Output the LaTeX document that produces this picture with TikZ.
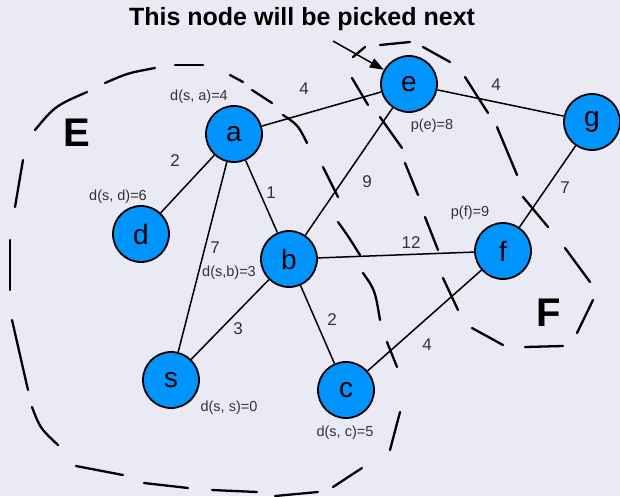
\documentclass[tikz,border=0pt]{standalone}
\usepackage{fontspec}
\setmainfont{Liberation Sans}
\usetikzlibrary{arrows.meta}
\definecolor{bg}{RGB}{233,234,244}
\definecolor{nodeblue}{RGB}{0,148,255}
\begin{document}
\begin{tikzpicture}[x=1pt,y=-1pt,
  vertex/.style={circle,draw=black,line width=1.8pt,fill=nodeblue,minimum size=56pt,inner sep=0pt,font=\fontsize{28}{28}\selectfont},
  edge/.style={line width=1.5pt},
  wlabel/.style={font=\fontsize{17}{17}\selectfont,text=black!80,inner sep=0pt},
  dlabel/.style={font=\fontsize{14.5}{14.5}\selectfont,text=black!80,inner sep=0pt},
  region/.style={font=\bfseries\fontsize{40}{40}\selectfont,inner sep=0pt},
  hand/.style={line width=2.3pt,line cap=round}
]
\fill[bg] (0,0) rectangle (620,496);
\useasboundingbox (0,0) rectangle (620,496);

% title and arrow
\node[font=\bfseries\fontsize{25}{25}\selectfont,inner sep=0pt] (title) at (302,19) {This node will be picked next};
\coordinate (arrowstart) at (333,41);

% nodes
\node[vertex] (a) at (234,134) {a};
\node[vertex] (e) at (409,84) {e};
\node[vertex] (g) at (592,122) {g};
\node[vertex] (d) at (141,234) {d};
\node[vertex] (b) at (289,259) {b};
\node[vertex] (f) at (503,251) {f};
\node[vertex] (s) at (171,380) {s};
\node[vertex] (c) at (346,390) {c};

% edges
\draw[edge] (a) -- (e);
\draw[edge] (e) -- (g);
\draw[edge] (a) -- (d);
\draw[edge] (a) -- (s);
\draw[edge] (a) -- (b);
\draw[edge] (b) -- (e);
\draw[edge] (b) -- (f);
\draw[edge] (b) -- (s);
\draw[edge] (b) -- (c);
\draw[edge] (c) -- (f);
\draw[edge] (f) -- (g);
\draw[line width=1.5pt,-{Triangle[length=14pt,width=10pt]}] (arrowstart) -- (e);

% weights
\node[wlabel] (wae) at (304,89) {4};
\node[wlabel] (weg) at (496,85) {4};
\node[wlabel] (wad) at (175,161) {2};
\node[wlabel] (wab) at (271,193) {1};
\node[wlabel] (wbe) at (367,182) {9};
\node[wlabel] (wfg) at (565,188) {7};
\node[wlabel] (was) at (215,248) {7};
\node[wlabel] (wbf) at (411,243) {12};
\node[wlabel] (wbs) at (238,329) {3};
\node[wlabel] (wbc) at (332,320) {2};
\node[wlabel] (wcf) at (427,345) {4};

% distance labels
\node[dlabel] (la) at (199,97) {d(s, a)=4};
\node[dlabel] (ld) at (118,197) {d(s, d)=6};
\node[dlabel] (le) at (432,126) {p(e)=8};
\node[dlabel] (lf) at (470,213) {p(f)=9};
\node[dlabel] (lb) at (229,273) {d(s,b)=3};
\node[dlabel] (ls) at (229,408) {d(s, s)=0};
\node[dlabel] (lc) at (345,433) {d(s, c)=5};

% region names
\node[region] (E) at (77,133) {E};
\node[region] (F) at (549,313) {F};

% hand-drawn boundary of E
\draw[hand] (35,130) .. controls (55,106) .. (87,92);
\draw[hand] (105,83) .. controls (128,73) .. (155,68);
\draw[hand] (175,65) -- (203,65);
\draw[hand] (230,75) -- (243,82);
\draw[hand] (252,90) -- (272,103);
\draw[hand] (283,115) .. controls (298,125) .. (307,143);
\draw[hand] (323,167) -- (338,197);
\draw[hand] (338,222) .. controls (348,236) .. (360,255);
\draw[hand] (363,273) .. controls (375,290) .. (380,320);
\draw[hand] (387,342) -- (397,367);
\draw[hand] (400,412) -- (390,450);
\draw[hand] (362,468) -- (333,487);
\draw[hand] (318,492) -- (275,496);
\draw[hand] (257,492) -- (212,490);
\draw[hand] (188,488) -- (144,483);
\draw[hand] (123,475) -- (76,466);
\draw[hand] (58,445) .. controls (40,428) .. (32,407);
\draw[hand] (28,390) -- (12,320);
\draw[hand] (10,290) -- (10,240);
\draw[hand] (15,207) -- (23,160);

% hand-drawn boundary of F
\draw[hand] (353,57) -- (365,47);
\draw[hand] (380,45) -- (410,42);
\draw[hand] (423,47) -- (450,62);
\draw[hand] (465,77) -- (488,113);
\draw[hand] (497,127) -- (517,175);
\draw[hand] (523,197) -- (548,227);
\draw[hand] (565,248) -- (590,282);
\draw[hand] (593,300) -- (577,333);
\draw[hand] (563,346) -- (525,347);
\draw[hand] (503,345) -- (472,328);
\draw[hand] (458,310) -- (443,278);
\draw[hand] (438,250) -- (425,217);
\draw[hand] (418,195) -- (405,163);
\draw[hand] (402,148) -- (380,117);
\draw[hand] (368,105) -- (352,78);
\end{tikzpicture}
\end{document}
